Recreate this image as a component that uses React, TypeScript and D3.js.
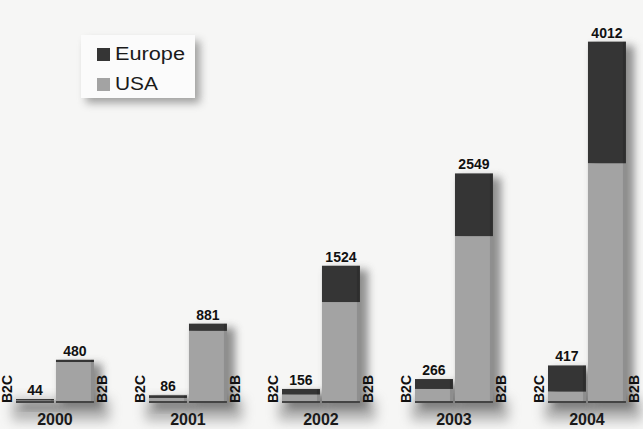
import React from 'react';
import * as d3 from 'd3';

const years = ['2000', '2001', '2002', '2003', '2004'];
const types = ['B2C', 'B2B'];
const b2cEurope = [15, 30, 62, 110, 290];
const b2cUSA = [29, 56, 94, 156, 127];
const b2bEurope = [25, 80, 403, 696, 1350];
const b2bUSA = [455, 801, 1121, 1853, 2662];
const b2cTotals = [44, 86, 156, 266, 417];
const b2bTotals = [480, 881, 1524, 2549, 4012];
const legendLabels = ['Europe', 'USA'];

const W = 643;
const H = 429;
const baseline = 403;
const EU = '#353535';
const US = '#a3a3a3';

export default function App() {
  const x = d3.scaleBand<string>().domain(years).range([16, 16 + 133 * 4.586]).paddingInner(0.414).paddingOuter(0);
  const xi = d3.scaleBand<string>().domain(types).range([0, x.bandwidth()]).paddingInner(0.05);
  const y = d3.scaleLinear().domain([0, 4230]).range([baseline, 22]);

  const rows = years.map((yr, i) => ({
    year: yr,
    B2C: { eu: b2cEurope[i], us: b2cUSA[i], total: b2cTotals[i] },
    B2B: { eu: b2bEurope[i], us: b2bUSA[i], total: b2bTotals[i] },
  }));

  return (
    <svg width={W} height={H} style={{ position: 'absolute', left: 0, top: 0, background: '#f6f6f5' }}
      fontFamily="'Liberation Sans', Arial, sans-serif">
      <defs>
        <filter id="blur" x="-50%" y="-50%" width="200%" height="200%">
          <feGaussianBlur stdDeviation="4.5" />
        </filter>
        <filter id="blur2" x="-50%" y="-50%" width="200%" height="200%">
          <feGaussianBlur stdDeviation="6" />
        </filter>
      </defs>
      <rect width={W} height={H} fill="#f6f6f5" />

      {/* Legend */}
      <rect x={86} y={41} width={114} height={62} fill="#666" opacity={0.6} filter="url(#blur)" />
      <rect x={81} y={35} width={114} height={63} fill="#fbfbfb" />
      {legendLabels.map((l, i) => (
        <g key={l}>
          <rect x={97} y={48 + i * 30} width={13} height={13} fill={i === 0 ? EU : US} />
          <text x={115} y={60 + i * 30} fontSize={18} fill="#1a1a1a"
            textLength={l === 'Europe' ? 70 : 43} lengthAdjust="spacingAndGlyphs">{l}</text>
        </g>
      ))}

      {rows.map((r) => {
        const gx = x(r.year)!;
        return (
          <g key={r.year} transform={`translate(${gx},0)`}>
            <rect x={-4} y={baseline - 4} width={x.bandwidth() + 20} height={22} fill="#777" opacity={0.5} filter="url(#blur2)" />
            {types.map((t) => {
              const d = (r as any)[t];
              const bx = xi(t)!;
              const bw = xi.bandwidth();
              const yTop = y(d.eu + d.us);
              const ySplit = y(d.us);
              const labelX = t === 'B2C' ? bx - 4 : Math.min(bx + bw + 13, W - 2 - gx);
              return (
                <g key={t}>
                  <rect x={bx + 5} y={yTop + 4} width={bw + 3} height={baseline - yTop + 2} fill="#555" opacity={0.65} filter="url(#blur)" />
                  <rect x={bx} y={ySplit} width={bw} height={baseline - ySplit} fill={US} />
                  <rect x={bx} y={yTop} width={bw} height={ySplit - yTop} fill={EU} />
                  <rect x={bx + bw - 3} y={yTop} width={3} height={baseline - yTop} fill="#000" opacity={0.12} />
                  <rect x={bx} y={baseline - 2} width={bw} height={2} fill="#444" />
                  <text x={bx + bw / 2} y={yTop - 4} textAnchor="middle" fontSize={14} fontWeight="bold" fill="#111">
                    {d.total}
                  </text>
                  <text transform={`translate(${labelX},${baseline}) rotate(-90)`}
                    fontSize={14} fontWeight="bold" fill="#111">{t}</text>
                </g>
              );
            })}
            <text x={x.bandwidth() / 2} y={425} textAnchor="middle" fontSize={16} fontWeight="bold" fill="#1a1a1a">
              {r.year}
            </text>
          </g>
        );
      })}
    </svg>
  );
}
